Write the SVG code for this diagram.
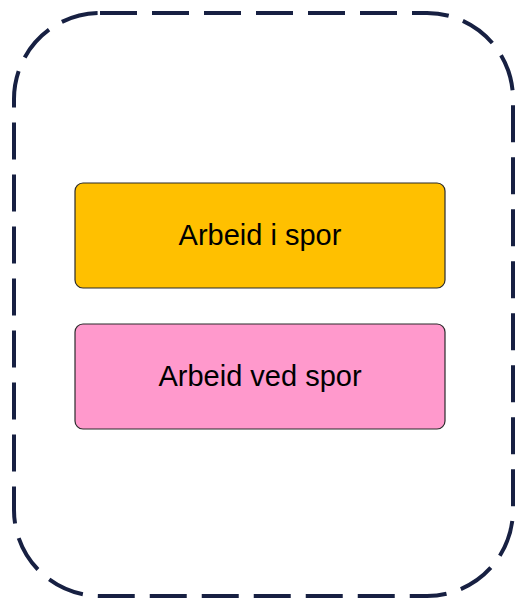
<svg xmlns="http://www.w3.org/2000/svg" width="515" height="598" viewBox="0 0 515 598">
  <style>
    .box { stroke: #2b2b2b; stroke-width: 1.2; }
    .lbl { font-family: "Liberation Sans", Arial, sans-serif; font-size: 29px; fill: #000; text-anchor: middle; }
  </style>
  <rect width="515" height="598" fill="#ffffff"/>
  <g id="container">
    <rect x="14" y="13" width="499" height="583" rx="86" ry="86" fill="none" stroke="#172042" stroke-width="4" stroke-dasharray="37 15"/>
  </g>
  <g id="arbeid-i-spor">
    <rect class="box" x="75" y="183" width="370" height="105" rx="8" ry="8" fill="#FFC000"/>
    <text class="lbl" x="260" y="245">Arbeid i spor</text>
  </g>
  <g id="arbeid-ved-spor">
    <rect class="box" x="75" y="324" width="370" height="105" rx="8" ry="8" fill="#FF99CC"/>
    <text class="lbl" x="260" y="386">Arbeid ved spor</text>
  </g>
  <g id="connectors"></g>
</svg>
